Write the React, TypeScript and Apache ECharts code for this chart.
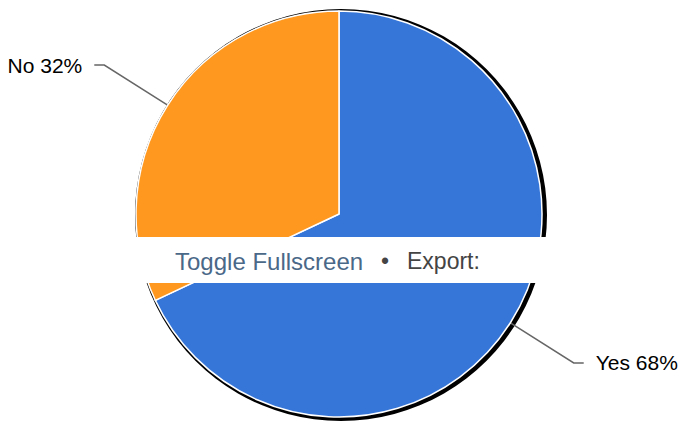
import React, { useEffect, useRef } from "react";
import * as echarts from "echarts";

const categories = ["Yes", "No"];
const values = [68, 32];
const colors = ["#3676d9", "#fe981f"];

export default function App() {
  const ref = useRef<HTMLDivElement>(null);
  useEffect(() => {
    document.body.style.margin = "0";
    const chart = echarts.init(ref.current!, undefined, { renderer: "svg" });
    chart.setOption({
      animation: false,
      backgroundColor: "#ffffff",
      graphic: [
        {
          type: "circle",
          z: -10,
          shape: { cx: 341, cy: 215, r: 206 },
          style: { fill: "#000000" },
        },
        {
          type: "rect",
          z: 100,
          shape: { x: 0, y: 237, width: 682, height: 46 },
          style: { fill: "#ffffff" },
        },
        {
          type: "text",
          z: 101,
          x: 175,
          y: 261,
          style: {
            text: "Toggle Fullscreen",
            fill: "#4a6888",
            font: '24px "Liberation Sans", Arial, sans-serif',
            textVerticalAlign: "middle",
          },
        },
        {
          type: "text",
          z: 101,
          x: 385,
          y: 261,
          style: {
            text: "•",
            fill: "#444444",
            font: '23px "Liberation Sans", Arial, sans-serif',
            textAlign: "center",
            textVerticalAlign: "middle",
          },
        },
        {
          type: "text",
          z: 101,
          x: 407,
          y: 261,
          style: {
            text: "Export:",
            fill: "#444444",
            font: '23px "Liberation Sans", Arial, sans-serif',
            textVerticalAlign: "middle",
          },
        },
      ],
      series: [
        {
          type: "pie",
          center: [339, 214],
          radius: 203,
          startAngle: 90,
          clockwise: true,
          silent: true,
          itemStyle: { borderColor: "#ffffff", borderWidth: 1.5 },
          label: {
            show: true,
            formatter: (p: any) => `${p.name} ${Math.round(p.percent)}%`,
            color: "#000000",
            fontSize: 21,
            fontFamily: '"Liberation Sans", Arial, sans-serif',
            distanceToLabelLine: 12,
            overflow: "none",
            edgeDistance: 0,
          },
          labelLine: {
            show: true,
            length: 75,
            length2: 10,
            lineStyle: { color: "#666666", width: 1.5 },
          },
          data: categories.map((c, i) => ({
            name: c,
            value: values[i],
            itemStyle: { color: colors[i] },
          })),
        },
      ],
    });
    return () => chart.dispose();
  }, []);
  return <div ref={ref} style={{ width: 682, height: 423 }} />;
}
